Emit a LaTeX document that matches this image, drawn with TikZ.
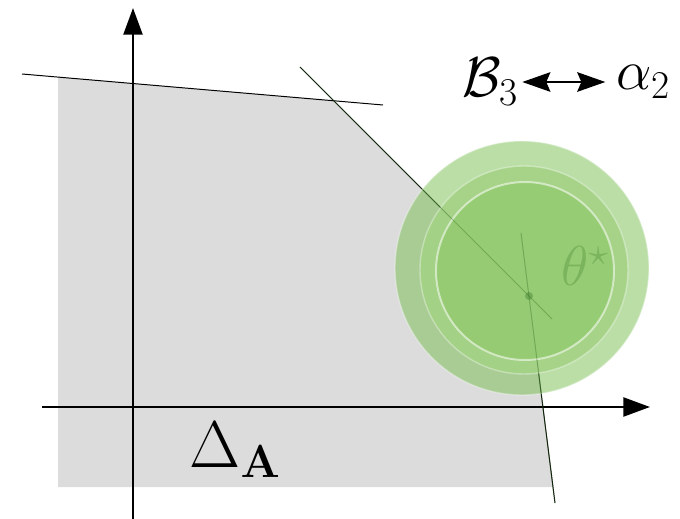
\documentclass[tikz,border=0pt]{standalone}
\usepackage{fix-cm}
\usepackage{amsmath}
\usetikzlibrary{arrows.meta}

\definecolor{region}{RGB}{220,220,220}
\definecolor{outergreen}{RGB}{120,190,80}
\definecolor{midgreen}{RGB}{163,210,131}
\definecolor{innergreen}{RGB}{148,203,112}
\definecolor{thetagreen}{RGB}{122,180,92}
\definecolor{shadegreen}{RGB}{50,110,35}

\begin{document}
\begin{tikzpicture}[
    x=0.025cm, y=-0.025cm,
    axis/.style={line width=1.8pt, -{Triangle[length=19pt, width=13.5pt]}},
    cut/.style={line width=0.7pt},
    ball/.style={fill=#1, draw=white, draw opacity=0.35, line width=1pt},
    lbl/.style={inner sep=0pt, font=\fontsize{40}{46}\selectfont},
    dbl/.style={line width=0.8pt, {Stealth[length=20pt, width=14pt, inset=3pt]}-{Stealth[length=20pt, width=14pt, inset=3pt]}}
]
\useasboundingbox (0,0) rectangle (680,519);

% Corner points of the feasible region
\coordinate (p1) at (58,77.1);
\coordinate (p2) at (333.8,100.8);
\coordinate (c) at (529,296);
\coordinate (p4) at (553.3,487);
\coordinate (p5) at (58,487);

% Shaded region
\fill[region] (p1) -- (p2) -- (c) -- (p4) -- (p5) -- cycle;

% Constraint lines
\coordinate (d1) at (300,67);
\coordinate (d2) at (552,319);
\coordinate (v1) at (521,233);
\coordinate (v2) at (555,503);
\draw[cut] (22,74) -- (383,105);
\draw[cut] (d1) -- (d2);
\draw[cut] (v1) -- (v2);

% Axes
\coordinate (xs) at (42,407);
\coordinate (xe) at (650,407);
\coordinate (ys) at (133,519);
\coordinate (ye) at (133,8);
\draw[axis] (xs) -- (xe);
\draw[axis] (ys) -- (ye);

% Nested balls round theta*
\filldraw[ball=outergreen, fill opacity=0.5] (522,268) circle[radius=127];
\filldraw[ball=midgreen, fill opacity=0.85] (524,270) circle[radius=104];
\filldraw[ball=innergreen, fill opacity=0.85, draw opacity=0.55, line width=1.4pt] (525,271) circle[radius=89];

% lines seen through the balls
\draw[cut, shadegreen, draw opacity=0.35] (d1) -- (d2);
\draw[cut, shadegreen, draw opacity=0.35] (v1) -- (v2);
\fill[shadegreen, fill opacity=0.35] (c) circle[radius=4];

% Labels
\node[lbl, text=thetagreen] (theta) at (585,266) {$\theta^\star$};
\node[lbl, font=\fontsize{47}{50}\selectfont] (dlabel) at (235,450) {$\Delta_{\mathbf{A}}$};
\node[lbl] (blabel) at (490,82) {$\mathcal{B}_3$};
\node[lbl] (alabel) at (643,82) {$\alpha_2$};
\draw[dbl, shorten <=3pt, shorten >=7.5pt] (blabel) -- (alabel);
\end{tikzpicture}
\end{document}
